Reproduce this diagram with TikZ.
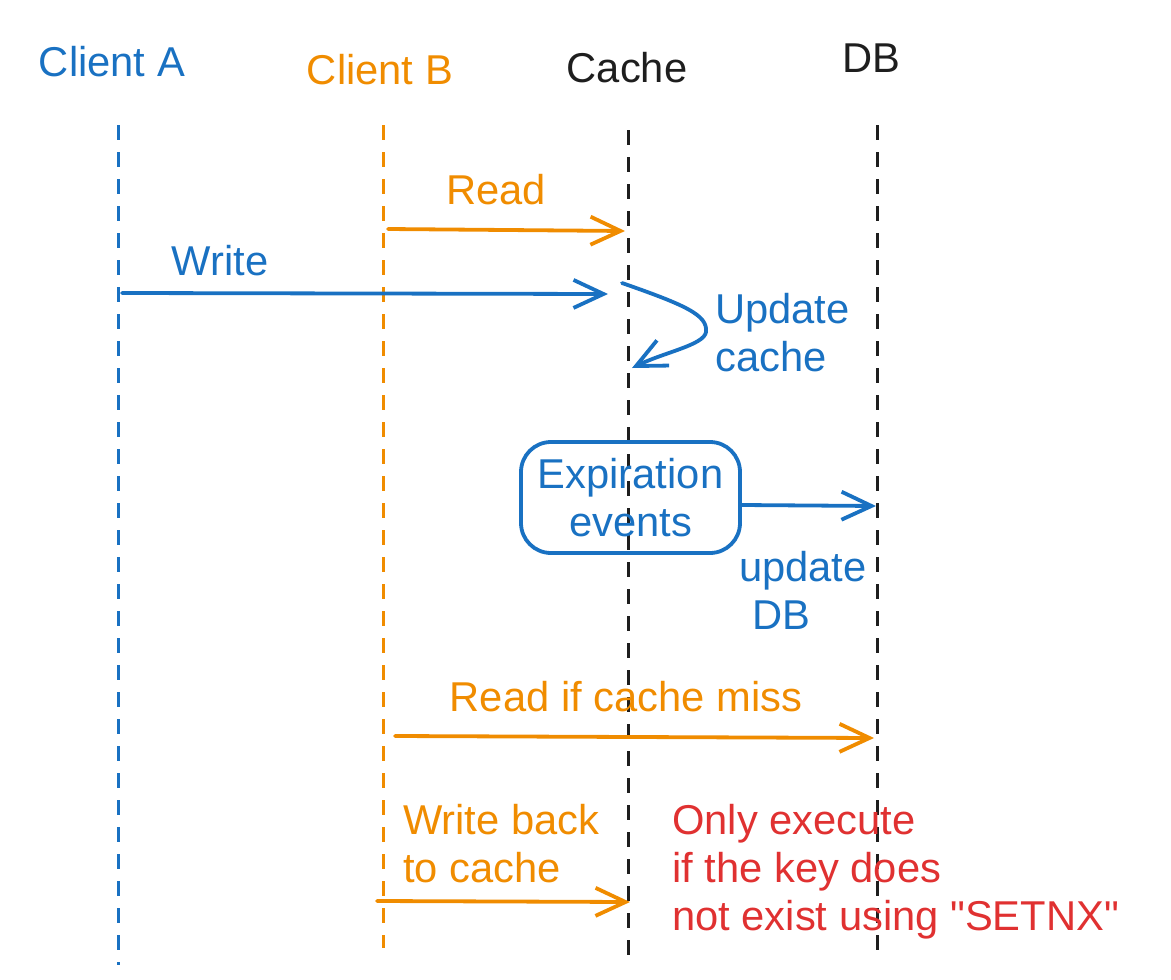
\documentclass[tikz,border=0pt]{standalone}
\usepackage{fontspec}
\setmainfont{Liberation Sans}[Ligatures=TeXOff]
\usetikzlibrary{arrows.meta}
\definecolor{exblue}{HTML}{1971C2}
\definecolor{exorange}{HTML}{F08C00}
\definecolor{exblack}{HTML}{1E1E1E}
\definecolor{exred}{HTML}{E03131}
\begin{document}
\begin{tikzpicture}[x=1pt,y=-1pt,
  lifeline/.style={line width=3pt, dash pattern=on 15pt off 12pt},
  msg/.style={line width=3.8pt, line cap=round, -{Straight Barb[length=30pt,width=28pt,line width=3.8pt]}},
  lbl/.style={font=\fontsize{41.7}{48}\selectfont, inner sep=0pt},
]
\useasboundingbox (0,0) rectangle (1171,980);

% headers
\node[lbl, text=exblue] (hA) at (112,62) {Client A};
\node[lbl, text=exorange] (hB) at (380,70) {Client B};
\node[lbl, text=exblack] (hC) at (627,68) {Cache};
\node[lbl, text=exblack] (hD) at (871,58) {DB};

% lifelines
\coordinate (At) at (118,125); \coordinate (Ab) at (118,965);
\coordinate (Bt) at (383,125); \coordinate (Bb) at (383,948);
\coordinate (Ct) at (628,130); \coordinate (Cb) at (628,955);
\coordinate (Dt) at (877,125); \coordinate (Db) at (877,950);
\draw[lifeline, exblue] (At) -- (Ab);
\draw[lifeline, exorange] (Bt) -- (Bb);
\draw[lifeline, exblack] (Ct) -- (Cb);
\draw[lifeline, exblack] (Dt) -- (Db);

% Read
\coordinate (r1) at (388,229); \coordinate (r2) at (625,231);
\draw[msg, exorange] (r1) -- (r2);
\node[lbl, text=exorange] (lread) at (496,190) {Read};

% Write
\coordinate (w1) at (122,293); \coordinate (w2) at (608,294);
\draw[msg, exblue] (w1) -- (w2);
\node[lbl, text=exblue] (lwrite) at (220,261) {Write};

% Update cache self loop
\coordinate (u1) at (622,283); \coordinate (u2) at (632,368);
\draw[msg, exblue] (u1) .. controls (685,305) and (708,315) .. (706,332)
  .. controls (704,345) and (665,352) .. (u2);
\node[lbl, text=exblue, anchor=west, align=left] (lupd) at (715,333) {Update\\cache};

% Expiration events
\node[lbl, draw=exblue, line width=3.8pt, rounded corners=30pt,
  minimum width=219pt, minimum height=111pt, align=center, text=exblue]
  (exp) at (630.5,497.5) {Expiration\\events};
\coordinate (e1) at (742,505); \coordinate (e2) at (876,506);
\draw[msg, exblue] (e1) -- (e2);
\node[lbl, text=exblue, anchor=west, align=left] (ludb) at (739,590) {update\\\hspace*{13pt}DB};

% Read if cache miss
\coordinate (m1) at (395,736); \coordinate (m2) at (874,738);
\draw[msg, exorange] (m1) -- (m2);
\node[lbl, text=exorange] (lmiss) at (626,697) {Read if cache miss};

% Write back
\coordinate (b1) at (377,901); \coordinate (b2) at (630,902);
\draw[msg, exorange] (b1) -- (b2);
\node[lbl, text=exorange, anchor=west, align=left] (lwb) at (403,844) {Write back\\to cache};

% note
\node[lbl, text=exred, anchor=west, align=left] (note) at (672,872) {Only execute\\if the key does\\not exist using "SETNX"};
\end{tikzpicture}
\end{document}
